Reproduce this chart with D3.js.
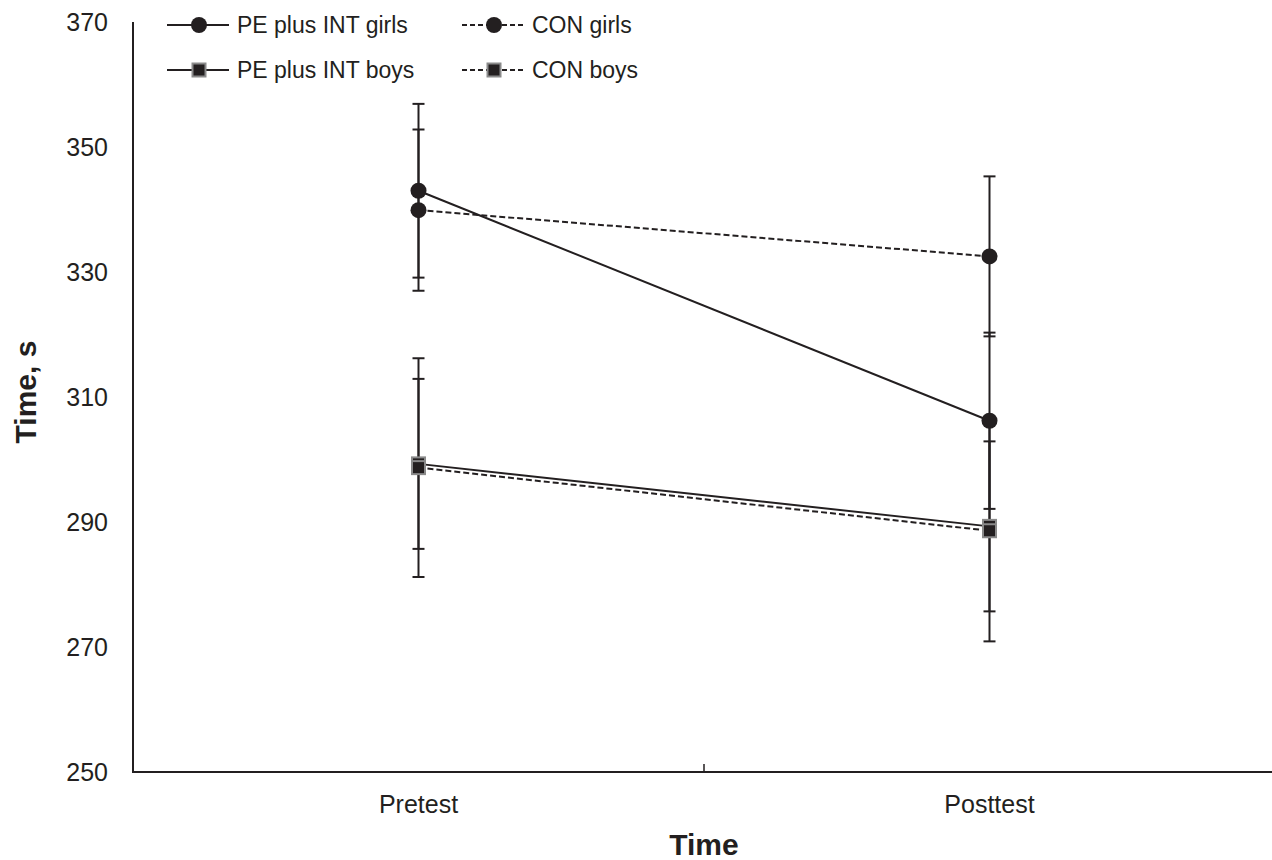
<!DOCTYPE html>
<html>
<head>
<meta charset="utf-8">
<script src="https://cdn.jsdelivr.net/npm/d3@7"></script>
<style>
  body { margin: 0; background: #fff; }
  text { font-family: "Liberation Sans", Arial, sans-serif; fill: #231f20; }
</style>
</head>
<body>
<div id="canvas"></div>
<script>
// data
const timepoints = ["Pretest", "Posttest"];
const yTicks = [250, 270, 290, 310, 330, 350, 370];

const peGirls = [343.0, 306.2];
const peGirlsSd = [13.9, 14.1];
const conGirls = [339.9, 332.5];
const conGirlsSd = [12.9, 12.8];
const peBoys = [299.3, 289.3];
const peBoysSd = [13.6, 13.6];
const conBoys = [298.7, 288.6];
const conBoysSd = [17.5, 17.7];

const seriesNames = ["PE plus INT girls", "CON girls", "PE plus INT boys", "CON boys"];

const series = [
  { name: seriesNames[0], values: peGirls, sd: peGirlsSd, dashed: false, shape: "circle" },
  { name: seriesNames[1], values: conGirls, sd: conGirlsSd, dashed: true, shape: "circle" },
  { name: seriesNames[2], values: peBoys, sd: peBoysSd, dashed: false, shape: "square" },
  { name: seriesNames[3], values: conBoys, sd: conBoysSd, dashed: true, shape: "square" }
];

const width = 1272, height = 860;
const margin = { top: 22, left: 133, bottom: 88, right: -3 };
const iwidth = width - margin.left - margin.right;
const iheight = height - margin.top - margin.bottom;
const ink = "#231f20";

const svg = d3.select("#canvas").append("svg")
  .attr("width", width)
  .attr("height", height);

const g = svg.append("g").attr("transform", `translate(${margin.left},${margin.top})`);

const x = d3.scaleBand().domain(timepoints).range([0, iwidth]);
const y = d3.scaleLinear().domain([250, 370]).range([iheight, 0]);
const cx = d => x(d) + x.bandwidth() / 2;

// axes
g.append("line")
  .attr("x1", 0).attr("x2", 0).attr("y1", 0).attr("y2", iheight)
  .attr("stroke", ink).attr("stroke-width", 2);
g.append("line")
  .attr("x1", -1).attr("x2", iwidth).attr("y1", iheight).attr("y2", iheight)
  .attr("stroke", ink).attr("stroke-width", 2);
// category divider tick
g.append("line")
  .attr("x1", x(timepoints[1])).attr("x2", x(timepoints[1]))
  .attr("y1", iheight - 8).attr("y2", iheight)
  .attr("stroke", ink).attr("stroke-width", 1.5);

g.selectAll(".ylab").data(yTicks).enter().append("text")
  .attr("class", "ylab")
  .attr("x", -25)
  .attr("y", d => y(d))
  .attr("dy", "0.36em")
  .attr("text-anchor", "end")
  .style("font-size", "25px")
  .text(d => d);

g.selectAll(".xlab").data(timepoints).enter().append("text")
  .attr("class", "xlab")
  .attr("x", d => cx(d))
  .attr("y", iheight + 41)
  .attr("text-anchor", "middle")
  .style("font-size", "25px")
  .text(d => d);

svg.append("text")
  .attr("transform", `translate(36,392) rotate(-90)`)
  .attr("text-anchor", "middle")
  .style("font-size", "30px")
  .style("font-weight", "bold")
  .text("Time, s");

svg.append("text")
  .attr("x", margin.left + x(timepoints[1]))
  .attr("y", 855)
  .attr("text-anchor", "middle")
  .style("font-size", "30px")
  .style("font-weight", "bold")
  .text("Time");

// error bars
series.forEach(s => {
  const eb = g.append("g");
  timepoints.forEach((t, i) => {
    const lo = y(s.values[i] - s.sd[i]), hi = y(s.values[i] + s.sd[i]);
    eb.append("line").attr("x1", cx(t)).attr("x2", cx(t)).attr("y1", lo).attr("y2", hi)
      .attr("stroke", ink).attr("stroke-width", 2);
    [lo, hi].forEach(v => {
      eb.append("line").attr("x1", cx(t) - 6).attr("x2", cx(t) + 6).attr("y1", v).attr("y2", v)
        .attr("stroke", ink).attr("stroke-width", 2);
    });
  });
});

// lines
const line = d3.line().x((d, i) => cx(timepoints[i])).y(d => y(d));
series.forEach(s => {
  g.append("path")
    .datum(s.values)
    .attr("d", line)
    .attr("fill", "none")
    .attr("stroke", ink)
    .attr("stroke-width", 2)
    .attr("stroke-dasharray", s.dashed ? "6,3" : null);
});

function marker(sel, shape, px, py) {
  if (shape === "circle") {
    sel.append("circle").attr("cx", px).attr("cy", py).attr("r", 8).attr("fill", ink);
  } else {
    sel.append("rect").attr("x", px - 6.5).attr("y", py - 6.5).attr("width", 13).attr("height", 13)
      .attr("fill", "#231f20").attr("stroke", "#8a8a8a").attr("stroke-width", 2);
  }
}

series.forEach(s => {
  s.values.forEach((v, i) => marker(g, s.shape, cx(timepoints[i]), y(v)));
});

// legend
const legendPos = [[167, 25], [462, 25], [167, 70], [462, 70]];
series.forEach((s, i) => {
  const [lx, ly] = legendPos[i];
  const lg = svg.append("g");
  lg.append("line").attr("x1", lx).attr("x2", lx + 62).attr("y1", ly).attr("y2", ly)
    .attr("stroke", ink).attr("stroke-width", 2)
    .attr("stroke-dasharray", s.dashed ? "5,3" : null);
  marker(lg, s.shape, lx + 32, ly);
  lg.append("text")
    .attr("x", lx + 70)
    .attr("y", ly)
    .attr("dy", "0.35em")
    .style("font-size", "23px")
    .text(s.name);
});
</script>
</body>
</html>
